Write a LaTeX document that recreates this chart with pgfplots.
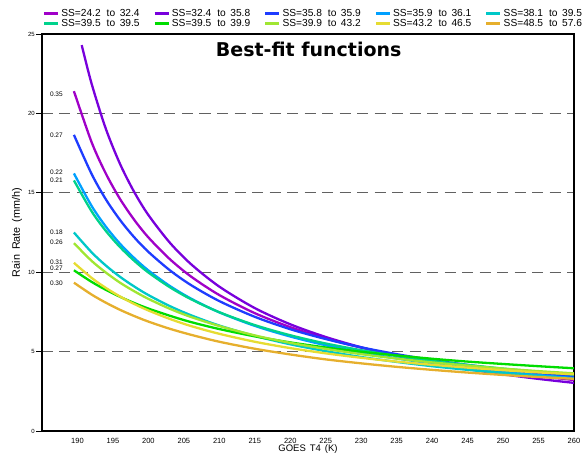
\documentclass[border=0pt]{standalone}
\usepackage{pgfplots}
\pgfplotsset{compat=1.18}
\usepackage{fontspec}
\setmainfont{Liberation Sans}
\newfontfamily\titlefont{DejaVu Sans}
\definecolor{cViolet}{RGB}{120,0,220}
\definecolor{cMagenta}{RGB}{160,0,200}
\definecolor{cBlue}{RGB}{30,60,255}
\definecolor{cDodger}{RGB}{0,160,255}
\definecolor{cCyan}{RGB}{0,200,200}
\definecolor{cAqua}{RGB}{0,210,140}
\definecolor{cGreen}{RGB}{0,220,0}
\definecolor{cYG}{RGB}{160,230,50}
\definecolor{cYellow}{RGB}{230,220,50}
\definecolor{cOrange}{RGB}{230,175,45}
\newcommand{\legtxt}[3]{\makebox[90pt][l]{SS=#1\hspace{6pt}to\hspace{4.5pt}#2}}
\begin{document}
\begin{tikzpicture}
\begin{axis}[
  scale only axis, width=532pt, height=397pt,
  xmin=185, xmax=260, ymin=0, ymax=25,
  xtick={190,195,...,260}, ytick={0,5,...,25},
  /pgf/number format/assume math mode=true,
  xticklabel style={font=\fontsize{7.5}{8}\selectfont, inner sep=1pt},
  yticklabel style={font=\fontsize{6}{7}\selectfont, inner sep=1pt},
  x tick style={draw=none},
  y tick style={black, line width=0.6pt},
  tick align=outside, major tick length=6pt,
  ytick pos=left,
  axis line style={line width=2pt},
  ymajorgrids, grid style={dash pattern=on 11pt off 6.5pt, black!62, line width=1.1pt},
  xlabel={GOES\hspace{4pt}T4\hspace{4pt}(K)}, ylabel={Rain\hspace{5pt}Rate\hspace{5pt}(mm/h)},
  xlabel style={font=\fontsize{9.5}{10}\selectfont, at={(axis description cs:0.5,-0.045)}, anchor=center},
  ylabel style={font=\fontsize{10.8}{11}\selectfont, at={(axis description cs:-0.047,0.5)}, anchor=center, rotate=0},
  every axis plot/.append style={line width=2.3pt, smooth},
  legend columns=5,
  legend style={at={(axis description cs:-0.005,1)}, anchor=south west, yshift=3pt,
     draw=none, fill=none, font=\fontsize{10.2}{11}\selectfont,
     nodes={inner sep=0.8pt}, column sep=1pt},
  legend cell align=left,
  legend image code/.code={\draw[#1, line width=3pt] (0pt,0pt) -- (14pt,0pt);},
]
\addplot[cMagenta] coordinates {(189.5,21.40)(192,18.18)(194,16.21)(196,14.61)(198,13.30)(200,12.19)(203,10.83)(206,9.73)(210,8.56)(215,7.42)(220,6.54)(225,5.83)(230,5.25)(235,4.77)(240,4.36)(245,4.01)(250,3.71)(255,3.45)(260,3.21)};
\addlegendentry{\legtxt{24.2}{32.4}{}}
\addplot[cViolet] coordinates {(190.6,24.30)(192,21.86)(194,19.03)(196,16.82)(198,15.05)(200,13.60)(203,11.87)(206,10.51)(210,9.09)(215,7.74)(220,6.72)(225,5.92)(230,5.27)(235,4.73)(240,4.28)(245,3.90)(250,3.57)(255,3.28)(260,3.03)};
\addlegendentry{\legtxt{32.4}{35.8}{}}
\addplot[cBlue] coordinates {(189.5,18.65)(192,16.18)(194,14.59)(196,13.29)(198,12.20)(200,11.28)(203,10.13)(206,9.19)(210,8.18)(215,7.19)(220,6.41)(225,5.79)(230,5.27)(235,4.84)(240,4.47)(245,4.16)(250,3.88)(255,3.64)(260,3.43)};
\addlegendentry{\legtxt{35.8}{35.9}{}}
\addplot[cDodger] coordinates {(189.5,16.22)(192,14.17)(194,12.87)(196,11.79)(198,10.89)(200,10.11)(203,9.14)(206,8.34)(210,7.47)(215,6.62)(220,5.95)(225,5.40)(230,4.95)(235,4.57)(240,4.25)(245,3.97)(250,3.73)(255,3.52)(260,3.33)};
\addlegendentry{\legtxt{35.9}{36.1}{}}
\addplot[cCyan] coordinates {(189.5,12.50)(192,11.25)(194,10.42)(196,9.71)(198,9.10)(200,8.56)(203,7.87)(206,7.29)(210,6.64)(215,5.99)(220,5.46)(225,5.03)(230,4.66)(235,4.35)(240,4.08)(245,3.85)(250,3.65)(255,3.47)(260,3.30)};
\addlegendentry{\legtxt{38.1}{39.5}{}}
\addplot[cAqua] coordinates {(189.5,15.78)(192,13.83)(194,12.60)(196,11.58)(198,10.72)(200,9.98)(203,9.06)(206,8.30)(210,7.48)(215,6.67)(220,6.03)(225,5.51)(230,5.09)(235,4.73)(240,4.42)(245,4.16)(250,3.93)(255,3.73)(260,3.55)};
\addlegendentry{\legtxt{39.5}{39.5}{}}
\addplot[cGreen] coordinates {(189.5,10.12)(192,9.39)(194,8.89)(196,8.45)(198,8.06)(200,7.71)(203,7.26)(206,6.86)(210,6.42)(215,5.96)(220,5.58)(225,5.26)(230,4.99)(235,4.76)(240,4.55)(245,4.37)(250,4.22)(255,4.08)(260,3.95)};
\addlegendentry{\legtxt{39.5}{39.9}{}}
\addplot[cYG] coordinates {(189.5,11.83)(192,10.71)(194,9.98)(196,9.34)(198,8.80)(200,8.32)(203,7.70)(206,7.18)(210,6.61)(215,6.02)(220,5.55)(225,5.17)(230,4.84)(235,4.56)(240,4.32)(245,4.12)(250,3.93)(255,3.77)(260,3.63)};
\addlegendentry{\legtxt{39.9}{43.2}{}}
\addplot[cYellow] coordinates {(189.5,10.59)(192,9.64)(194,9.01)(196,8.47)(198,8.00)(200,7.59)(203,7.06)(206,6.61)(210,6.12)(215,5.62)(220,5.22)(225,4.89)(230,4.61)(235,4.37)(240,4.17)(245,3.99)(250,3.83)(255,3.69)(260,3.57)};
\addlegendentry{\legtxt{43.2}{46.5}{}}
\addplot[cOrange] coordinates {(189.5,9.34)(192,8.59)(194,8.08)(196,7.63)(198,7.24)(200,6.89)(203,6.44)(206,6.06)(210,5.62)(215,5.18)(220,4.82)(225,4.51)(230,4.26)(235,4.04)(240,3.85)(245,3.68)(250,3.53)(255,3.40)(260,3.29)};
\addlegendentry{\legtxt{48.5}{57.6}{}}
\begin{scope}[every node/.style={font=\fontsize{6.5}{7}\selectfont, anchor=west, inner sep=0pt}]
\node at (axis cs:186.1,21.2) {0.35};
\node at (axis cs:186.1,18.6) {0.27};
\node at (axis cs:186.1,16.3) {0.22};
\node at (axis cs:186.1,15.8) {0.21};
\node at (axis cs:186.1,12.5) {0.18};
\node at (axis cs:186.1,11.9) {0.26};
\node at (axis cs:186.1,10.64) {0.31};
\node at (axis cs:186.1,10.26) {0.27};
\node at (axis cs:186.1,9.32) {0.30};
\end{scope}
\node[font=\titlefont\bfseries\fontsize{19}{20}\selectfont, anchor=center] at (axis cs:222.6,24.05) {Best-fit functions};
\end{axis}
\pgfresetboundingbox
\path[use as bounding box] (-42pt,-27pt) rectangle (545pt,431pt);
\end{tikzpicture}
\end{document}
